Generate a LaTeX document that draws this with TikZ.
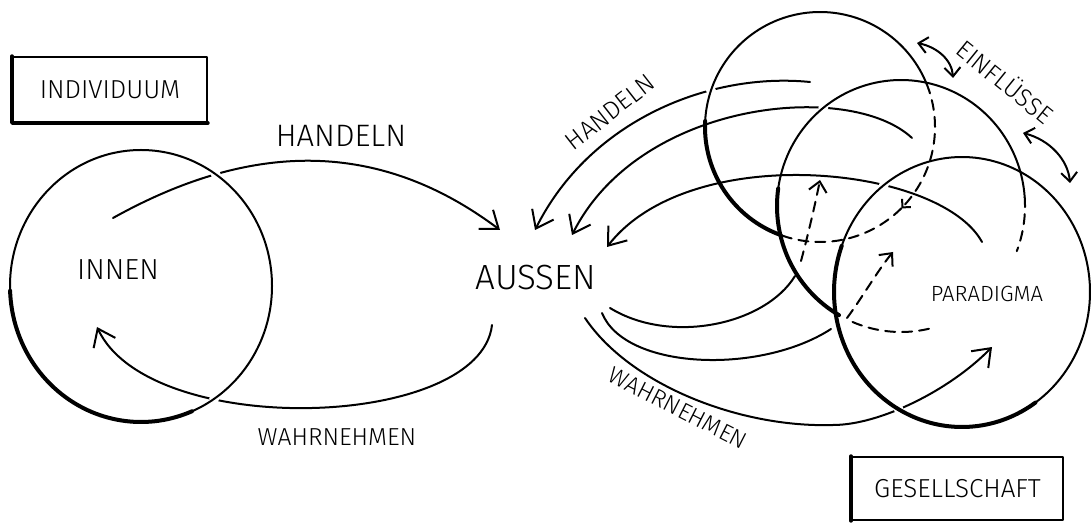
\documentclass[tikz,border=0pt]{standalone}
\usepackage{fontspec}
\setmainfont{Fira Sans}[UprightFont = * Light]
\usetikzlibrary{arrows.meta,intersections}

\begin{document}
\begin{tikzpicture}[x=0.5pt,y=-0.5pt,
  line cap=round, line join=round,
  stroke/.style={line width=1pt},
  bold/.style={line width=2pt},
  hidden/.style={line width=1pt, dash pattern=on 5pt off 3.5pt},
  tip/.style={-{Straight Barb[length=8pt,width=12pt]}},
  smalltip/.style={-{Straight Barb[length=5pt,width=9pt]}},
  tinytip/.style={-{Straight Barb[length=3pt,width=6pt]}},
  twotip/.style={{Straight Barb[length=4.5pt,width=8pt]}-{Straight Barb[length=4.5pt,width=8pt]}},
  lbl/.style={inner sep=0pt},
  frame/.style={draw, line width=1pt, inner sep=0pt},
  gapdot/.style={fill=white, draw=none},
]
\useasboundingbox (0,0) rectangle (1092,523);

% ---------------- individual: inner circle and its loop ----------------
\coordinate (hS) at (113,218);
\coordinate (hE) at (500,230);
\coordinate (wS) at (492,325);
\coordinate (wE) at (97,327);

\draw[stroke,tip,name path=aH] (hS) .. controls (253,140) and (380,140) .. (hE);
\draw[stroke,tip,name path=aW] (wS) .. controls (480,430) and (150,440) .. (wE);

% ---------------- society: arrows to and from the paradigm circles ----------------
\coordinate (t1S) at (810,82);   \coordinate (t1E) at (535,230);
\coordinate (t2S) at (912,138);  \coordinate (t2E) at (572,235);
\coordinate (t3S) at (982,242);  \coordinate (t3E) at (607,247);

\draw[stroke,tip,name path=aT1] (t1S) .. controls (710,72) and (590,120) .. (t1E);
\draw[stroke,tip,name path=aT2] (t2S) .. controls (850,80) and (640,100) .. (t2E);
\draw[stroke,tip,name path=aT3] (t3S) .. controls (940,165) and (690,140) .. (t3E);

\coordinate (w1S) at (610,308);  \coordinate (w1M) at (795,276);
\coordinate (w1D) at (801,261);  \coordinate (w1E) at (820,180);
\coordinate (w2S) at (602,313);  \coordinate (w2M) at (831,329);
\coordinate (w2D) at (847,318);  \coordinate (w2E) at (893,252);
\coordinate (w3S) at (585,318);  \coordinate (w3M) at (833,425);
\coordinate (w3E) at (992,347);

\draw[stroke] (w1S) .. controls (670,345) and (765,325) .. (w1M);
\draw[hidden,smalltip] (w1D) .. controls (808,235) and (815,205) .. (w1E);
\draw[stroke] (w2S) .. controls (625,370) and (760,375) .. (w2M);
\draw[hidden,smalltip] (w2D) .. controls (862,298) and (878,270) .. (w2E);
\draw[stroke,tip,name path=aW3] (w3S) .. controls (630,385) and (740,428) .. (w3M)
  .. controls (880,425) and (950,390) .. (w3E);

% mutual influences
\coordinate (e1S) at (917,43);   \coordinate (e1E) at (953,78);
\coordinate (e2S) at (1023,133); \coordinate (e2E) at (1070,183);
\draw[stroke,twotip] (e1S) .. controls (937,47) and (952,60) .. (e1E);
\draw[stroke,twotip] (e2S) .. controls (1050,140) and (1068,160) .. (e2E);

% ---------------- circle outlines (for crossing gaps) ----------------
\path[name path=cL] (141,286) ellipse [x radius=131, y radius=136];
\path[name path=c1] (820,127) ellipse [x radius=115, y radius=115];
\path[name path=c2] (901,206) ellipse [x radius=124, y radius=126];
\path[name path=c3] (962,292) ellipse [x radius=128, y radius=135];

\path[name intersections={of=aH and cL, by=xH}];
\path[name intersections={of=aW and cL, by=xW}];
\path[name intersections={of=aT1 and c1, by=xT1}];
\path[name intersections={of=aT2 and c2, by=xT2}];
\path[name intersections={of=aT3 and c3, by=xT3}];
\path[name intersections={of=aW3 and c3, by=xW3}];
\foreach \p in {xH,xW,xT1,xT2,xT3,xW3}
  \fill[gapdot] (\p) circle [radius=5];

% ---------------- circles ----------------
% individual
\draw[stroke] (141,286) ellipse [x radius=131, y radius=136];
\draw[bold] plot[domain=67:178, samples=60, variable=\t] ({141+131*cos(\t)},{286+136*sin(\t)});

% upper circle
\draw[stroke] plot[domain=183:338, samples=80, variable=\t] ({820+115*cos(\t)},{127+115*sin(\t)});
\draw[bold] plot[domain=110:183, samples=50, variable=\t] ({820+115*cos(\t)},{127+115*sin(\t)});
\draw[hidden,tinytip] plot[domain=-22:45, samples=50, variable=\t] ({820+115*cos(\t)},{127+115*sin(\t)});
\draw[hidden] plot[domain=45:110, samples=50, variable=\t] ({820+115*cos(\t)},{127+115*sin(\t)});

% middle circle
\draw[stroke] plot[domain=188:356, samples=80, variable=\t] ({901+124*cos(\t)},{206+126*sin(\t)});
\draw[bold] plot[domain=120:188, samples=50, variable=\t] ({901+124*cos(\t)},{206+126*sin(\t)});
\draw[hidden] plot[domain=-4:21, samples=30, variable=\t] ({901+124*cos(\t)},{206+126*sin(\t)});
\draw[hidden] plot[domain=77:116, samples=30, variable=\t] ({901+124*cos(\t)},{206+126*sin(\t)});

% paradigm circle
\draw[stroke] plot[domain=200:415, samples=100, variable=\t] ({962+128*cos(\t)},{292+135*sin(\t)});
\draw[bold] plot[domain=55:200, samples=80, variable=\t] ({962+128*cos(\t)},{292+135*sin(\t)});

% ---------------- labels ----------------
\node[frame, minimum width=97pt, minimum height=32.5pt,
      font=\fontsize{13}{13}\selectfont] (indiv) at (110,89.5) {INDIVIDUUM};
\draw[line width=1.7pt] (indiv.north west) -- (indiv.south west) -- (indiv.south east);

\node[frame, minimum width=105.5pt, minimum height=31.5pt,
      font=\fontsize{13}{13}\selectfont] (gesell) at (957.5,488.5) {GESELLSCHAFT};
\draw[line width=1.7pt] (gesell.north west) -- (gesell.south west);

\node[lbl, font=\fontsize{15.5}{15.5}\selectfont] (handelnL) at (341,136) {HANDELN};
\node[lbl, font=\fontsize{14.5}{14.5}\selectfont] (innen) at (118,270) {INNEN};
\node[lbl, font=\fontsize{17.5}{17.5}\selectfont] (aussen) at (536,278) {AUSSEN};
\node[lbl, font=\fontsize{12.3}{12.3}\selectfont] (wahrL) at (337,437) {WAHRNEHMEN};
\node[lbl, font=\fontsize{12.5}{12.5}\selectfont, rotate=38] (handelnR) at (610,112) {HANDELN};
\node[lbl, font=\fontsize{12.5}{12.5}\selectfont, rotate=-39] (einfl) at (1006,81) {EINFLÜSSE};
\node[lbl, font=\fontsize{11.8}{11.8}\selectfont, rotate=-27] (wahrR) at (678,408) {WAHRNEHMEN};
\node[lbl, font=\fontsize{11}{11}\selectfont] (para) at (987,294) {PARADIGMA};
\end{tikzpicture}
\end{document}
